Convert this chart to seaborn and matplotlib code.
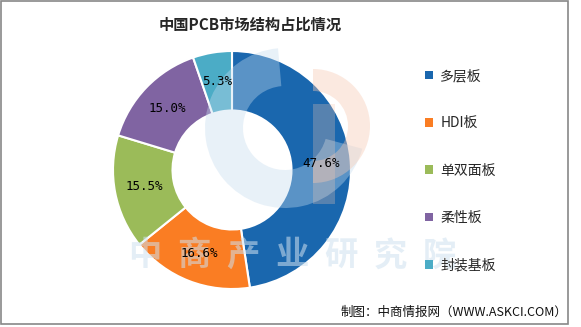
import matplotlib
matplotlib.use("Agg")
import matplotlib.pyplot as plt
import seaborn as sns
from matplotlib.patches import Wedge, Rectangle, Patch

sns.set_theme(style="white")
plt.rcParams['font.family'] = ['Noto Sans CJK SC', 'DejaVu Sans']

categories = ["多层板", "HDI板", "单双面板", "柔性板", "封装基板"]
values = [47.6, 16.6, 15.5, 15.0, 5.3]
colors = ["#1A67AE", "#FA7D23", "#9BBB59", "#8064A2", "#4BACC6"]
title = "中国PCB市场结构占比情况"
source = "制图：中商情报网（WWW.ASKCI.COM）"
watermark = "中商产业研究院"

W, H = 581, 327
fig = plt.figure(figsize=(W / 100, H / 100), dpi=100)
fig.patch.set_facecolor("white")

cx, cy, R = 232, 170, 119
ax = fig.add_axes([(cx - R) / W, (H - cy - R) / H, 2 * R / W, 2 * R / H])
palette = sns.color_palette(colors)
wedges, texts, autotexts = ax.pie(
    values, colors=palette, startangle=90, counterclock=False,
    autopct=lambda p: f"{p:.1f}%", pctdistance=0.75,
    wedgeprops=dict(width=0.5, edgecolor="white", linewidth=1.5),
    textprops=dict(fontsize=9, color="black", family=["DejaVu Sans Mono"]),
)
for t in autotexts:
    t.set_zorder(10)
ax.set_xlim(-1, 1)
ax.set_ylim(-1, 1)
ax.set_aspect("equal")
ax.axis("off")

# Watermark logo (approximate), drawn in pie axes data coords from pixel positions
def d(x, y):
    return ((x - cx) / R, -(y - cy) / R)

def s(v):
    return v / R

ax.add_patch(Wedge(d(285, 128), s(80), 95, 345, width=s(38), facecolor="#c4dbee",
                   alpha=0.38, edgecolor="none", zorder=4, clip_on=False))
ax.add_patch(Wedge(d(313, 126), s(57), -90, 90, width=s(22), facecolor="#f7c9b2",
                   alpha=0.4, edgecolor="none", zorder=4, clip_on=False))
x0, y0 = d(313, 204)
ax.add_patch(Rectangle((x0, y0), s(22), s(100), facecolor="#f7c9b2", alpha=0.28,
                       edgecolor="none", zorder=4, clip_on=False))
for i, ch in enumerate(watermark):
    ax.text(*d(145 + i * 49, 256), ch, fontsize=24, fontweight="bold", color="#cfe1ef",
            alpha=0.55, ha="center", va="center", zorder=5, clip_on=False,
            family=["Noto Sans CJK SC"])

fig.text(250 / W, 1 - 25 / H, title, fontsize=11, fontweight="bold", ha="center", va="center")

handles = [Patch(facecolor=c, edgecolor="none") for c in colors]
leg = fig.legend(handles, categories, loc="upper left", bbox_to_anchor=(418 / W, 1 - 62 / H),
                 frameon=False, fontsize=10, handlelength=0.6, handleheight=0.6,
                 handletextpad=0.5, labelspacing=2.4, borderpad=0)

fig.text(567 / W, 1 - 312 / H, source, fontsize=9, ha="right", va="center", color="#111111")

fig.add_artist(Rectangle((1 / W, 3 / H), 567 / W, 1 - 4 / H, transform=fig.transFigure,
                         fill=False, edgecolor="#888888", linewidth=1.2))

fig.savefig("out.png", dpi=100)
